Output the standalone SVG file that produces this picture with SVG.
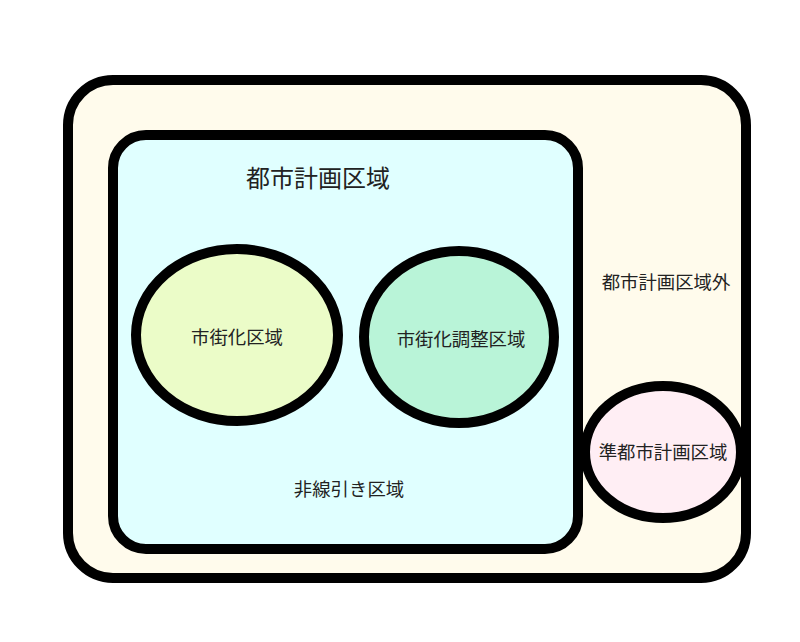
<svg xmlns="http://www.w3.org/2000/svg" width="800" height="642" viewBox="0 0 800 642">
<style>
.s{stroke:#000;stroke-width:10}
text{font-family:"Noto Sans CJK JP","Noto Sans",sans-serif;fill:#222;text-anchor:middle;dominant-baseline:central;font-size:18.4px}
.big{font-size:24px}
</style>
<rect width="800" height="642" fill="#fff"/>
<g id="outside">
<rect class="s" x="68" y="80" width="678" height="498" rx="45" fill="#FFFBEC"/>
<text x="666" y="281">都市計画区域外</text>
</g>
<g id="city-planning">
<rect class="s" x="113" y="135" width="465" height="414" rx="33" fill="#E0FFFF"/>
<text class="big" x="318" y="176">都市計画区域</text>
<text x="349" y="488">非線引き区域</text>
</g>
<g id="urbanization">
<ellipse class="s" cx="237" cy="335" rx="101" ry="86" fill="#EBFCC8"/>
<text x="237" y="336">市街化区域</text>
</g>
<g id="control">
<ellipse class="s" cx="459" cy="337" rx="95" ry="86" fill="#B9F4D8"/>
<text x="461" y="338">市街化調整区域</text>
</g>
<g id="quasi">
<ellipse class="s" cx="663" cy="452" rx="78" ry="66" fill="#FFEEF4"/>
<text x="663" y="451">準都市計画区域</text>
</g>
<g id="connectors"></g>
</svg>
